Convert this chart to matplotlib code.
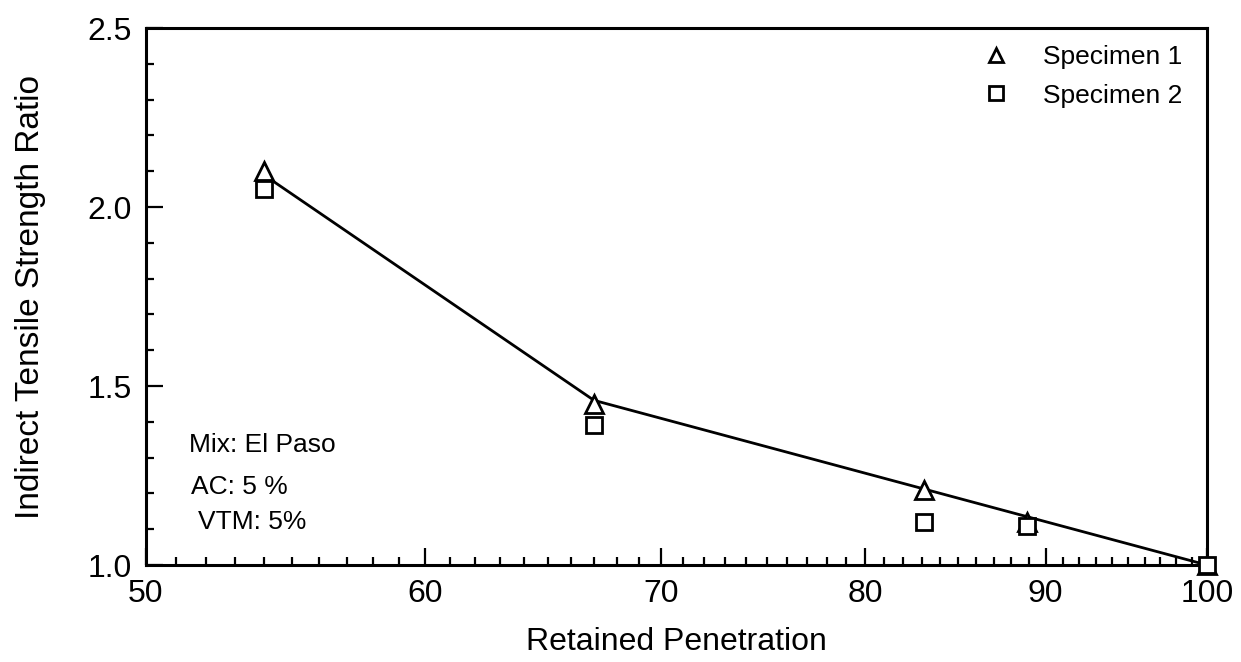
import numpy as np
import matplotlib.pyplot as plt
from matplotlib.ticker import FixedLocator, NullFormatter, FixedFormatter

plt.rcParams['font.family'] = ['Liberation Sans', 'DejaVu Sans']

# retained penetration (%) and ITS ratio
pen = [54.0, 67.0, 83.1, 88.9, 100.0]
spec1 = [2.10, 1.45, 1.21, 1.12, 1.00]
spec2 = [2.05, 1.39, 1.12, 1.11, 1.00]

# trend line drawn through the data
line_x = [54.0, 67.0, 100.0]
line_y = [2.09, 1.46, 1.00]

xticks = [50, 60, 70, 80, 90, 100]
yticks = [1.0, 1.5, 2.0, 2.5]

fig = plt.figure(figsize=(12.41, 6.62), dpi=100)
ax = fig.add_axes([0.1176, 0.1465, 0.855, 0.8112])

ax.plot(line_x, line_y, color='black', lw=2.0, zorder=2)
ax.plot(pen, spec1, linestyle='none', marker='^', ms=13, mfc='white',
        mec='black', mew=2.0, label='Specimen 1', zorder=3, clip_on=False)
ax.plot(pen, spec2, linestyle='none', marker='s', ms=12, mfc='white',
        mec='black', mew=2.0, label='Specimen 2', zorder=3, clip_on=False)

ax.set_xscale('log')
ax.set_xlim(50, 100)
ax.set_ylim(1.0, 2.5)

ax.xaxis.set_major_locator(FixedLocator(xticks))
ax.xaxis.set_major_formatter(FixedFormatter([str(t) for t in xticks]))
ax.xaxis.set_minor_locator(FixedLocator([v for v in range(51, 100) if v % 10]))
ax.xaxis.set_minor_formatter(NullFormatter())
ax.set_yticks(yticks)
ax.set_yticklabels([f'{t:.1f}' for t in yticks])
ax.yaxis.set_minor_locator(FixedLocator(np.arange(1.1, 2.5, 0.1)))

ax.tick_params(which='both', direction='in', top=False, right=False,
               width=1.6, labelsize=23, pad=10)
ax.tick_params(which='major', length=12)
ax.tick_params(which='minor', length=6)
for s in ax.spines.values():
    s.set_linewidth(2.2)

ax.set_xlabel('Retained Penetration', fontsize=23, labelpad=13)
ax.set_ylabel('Indirect Tensile Strength Ratio', fontsize=24, labelpad=30)

ax.text(0.041, 0.2235, 'Mix: El Paso', transform=ax.transAxes, fontsize=19, va='center')
ax.text(0.042, 0.145, 'AC: 5 %', transform=ax.transAxes, fontsize=19, va='center')
ax.text(0.049, 0.080, 'VTM: 5%', transform=ax.transAxes, fontsize=19, va='center')

ax.legend(loc='upper right', frameon=False, fontsize=19, markerscale=0.8,
          handlelength=1.0, handletextpad=1.3, labelspacing=0.55,
          borderaxespad=0.25, bbox_to_anchor=(0.993, 1.0))

fig.savefig('out.png', dpi=100)
